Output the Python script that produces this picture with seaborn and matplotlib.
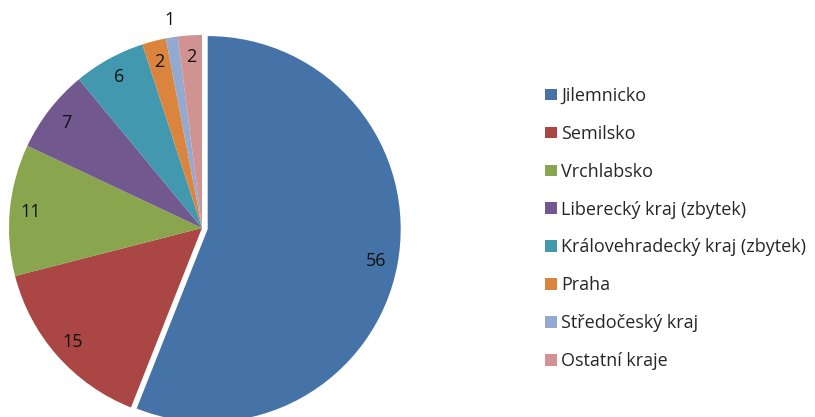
import numpy as np
import matplotlib
matplotlib.use('Agg')
import matplotlib.pyplot as plt
import seaborn as sns

regions = ['Jilemnicko', 'Semilsko', 'Vrchlabsko', 'Liberecký kraj (zbytek)',
           'Královehradecký kraj (zbytek)', 'Praha', 'Středočeský kraj', 'Ostatní kraje']
values = [56, 15, 11, 7, 6, 2, 1, 2]
colors = ['#4572A7', '#AA4643', '#89A54E', '#71588F',
          '#4198AF', '#DB843D', '#93A9CF', '#D19392']

sns.set_theme(style='white')
plt.rcParams['font.family'] = ['Open Sans', 'DejaVu Sans']
pal = sns.color_palette(colors)

fig = plt.figure(figsize=(8.15, 4.17), dpi=100)
# pie box in pixels: centre (202, 228), radius 193
ax = fig.add_axes([9 / 815, -4 / 417, 386 / 815, 386 / 417])
explode = [0.03] + [0] * (len(values) - 1)
wedges, _ = ax.pie(values, colors=pal, startangle=90, counterclock=False,
                   explode=explode, wedgeprops=dict(linewidth=0))
ax.set_xlim(-1, 1)
ax.set_ylim(-1, 1)
ax.set_aspect('equal')
ax.axis('off')

for w, v in zip(wedges, values):
    ang = np.deg2rad((w.theta1 + w.theta2) / 2)
    r = 1.09 if v == 1 else 0.89
    cx, cy = w.center
    ax.text(cx + r * np.cos(ang), cy + r * np.sin(ang), str(v),
            ha='center', va='center', fontsize=13, color='#111111', clip_on=False)

for w in wedges:
    w.set_clip_on(False)

fig.legend(wedges, regions, loc='center left', bbox_to_anchor=(545 / 815, 0.452),
           frameon=False, fontsize=13, handlelength=0.66, handleheight=0.62,
           handletextpad=0.22, labelspacing=1.1, borderpad=0, borderaxespad=0)

fig.savefig('out.png', dpi=100)
